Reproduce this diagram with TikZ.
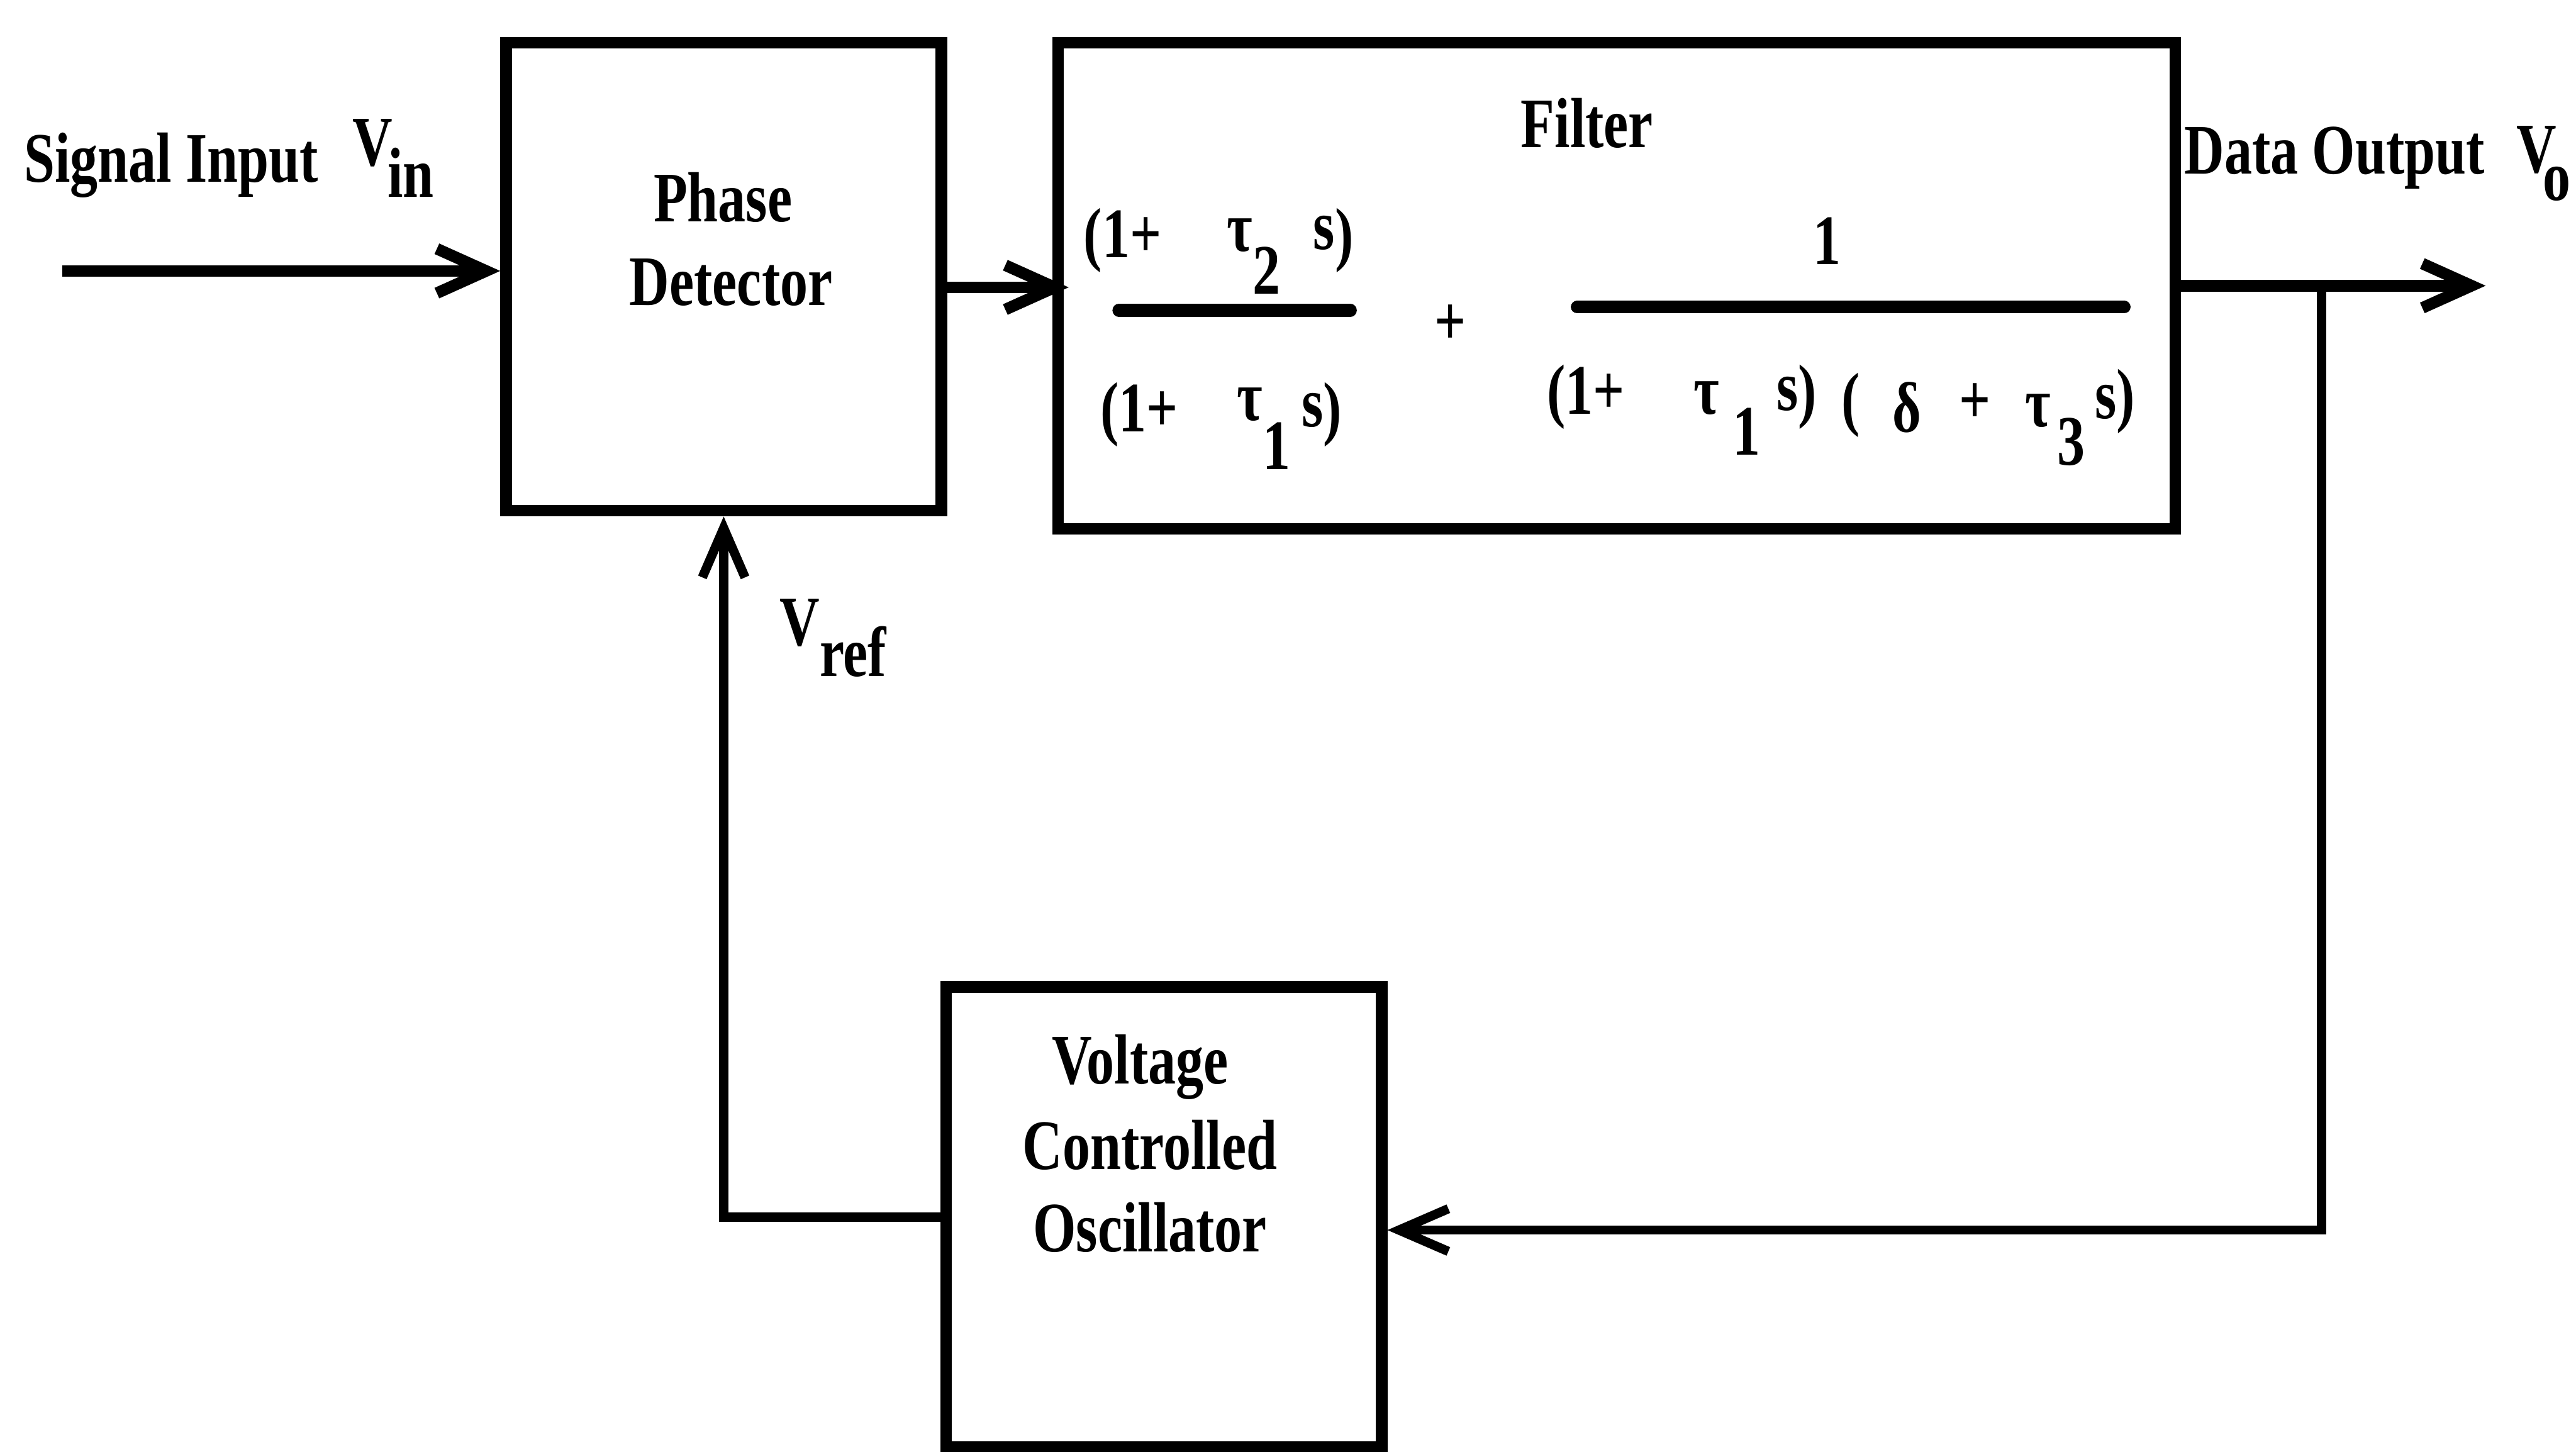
\documentclass[tikz,border=0pt]{standalone}
\usepackage{fontspec}
\setmainfont{Liberation Serif}[FakeStretch=0.78]
\usetikzlibrary{arrows.meta}

\newcommand{\lo}[1]{\raisebox{-0.19cm}{#1}}
\newcommand{\sh}[2]{\raisebox{#1}{#2}}

\tikzset{
  blk/.style={draw, line width=2pt, inner sep=0pt},
  txt/.style={font=\fontsize{12.3}{14.5}\selectfont\bfseries, inner sep=0pt},
  sig/.style={line width=2pt, -{Straight Barb[length=3mm,width=2.7mm]}},
  fb/.style={line width=1.6pt, -{Straight Barb[length=3mm,width=2.6mm]}},
  bar/.style={line width=2.2pt, line cap=round},
}

\begin{document}
\begin{tikzpicture}
  \useasboundingbox (0,0) rectangle (15.68,8.84);

  % blocks
  \node[blk, minimum width=2.65cm, minimum height=2.85cm] (pd) at (4.405,7.155) {};
  \node[blk, minimum width=6.80cm, minimum height=2.96cm] (flt) at (9.84,7.10) {};
  \node[blk, minimum width=2.65cm, minimum height=2.80cm] (vco) at (7.085,1.43) {};

  % block texts
  \node[txt, anchor=base] (pdtop) at (4.40,7.49) {Phase};
  \node[txt, anchor=base] (pdbot) at (4.45,6.98) {Detector};
  \node[txt, anchor=base] (flttit) at (9.66,7.94) {Filter};
  \node[txt, anchor=base] (vco1) at (6.94,2.24) {Voltage};
  \node[txt, anchor=base] (vco2) at (7.00,1.72) {Controlled};
  \node[txt, anchor=base] (vco3) at (7.00,1.22) {Oscillator};

  % transfer function
  \node[txt, anchor=base west] (num1) at (6.59,7.27)
    {(1+\hspace{0.40cm}\sh{0.04cm}{τ}\sh{-0.22cm}{2}\hspace{0.20cm}\sh{0.05cm}{s})};
  \node[txt, anchor=base west] (den1) at (6.69,6.21)
    {(1+\hspace{0.36cm}\sh{0.07cm}{τ}\sh{-0.23cm}{1}\hspace{0.07cm}\sh{0.03cm}{s})};
  \node[txt] (plus) at (8.83,6.86) {+};
  \node[txt, anchor=base] (num2) at (11.12,7.23) {1};
  \node[txt, anchor=base west] (den2) at (9.41,6.32)
    {(1+\hspace{0.42cm}τ\hspace{0.08cm}\sh{-0.25cm}{1}\hspace{0.10cm}\sh{0.02cm}{s})\hspace{0.15cm}\sh{-0.05cm}{(}\hspace{0.20cm}\sh{-0.11cm}{δ}\hspace{0.23cm}\sh{-0.06cm}{+}\hspace{0.21cm}\sh{-0.08cm}{τ}\hspace{0.04cm}\sh{-0.31cm}{3}\hspace{0.06cm}\sh{-0.03cm}{s}\sh{-0.03cm}{)}};
  \draw[bar] (6.81,6.95) -- (8.22,6.95);
  \draw[bar] (9.60,6.97) -- (12.93,6.97);

  % signal labels
  \node[txt, anchor=base west] (sigin) at (0.14,7.73) {Signal Input};
  \node[txt, anchor=base west] (vin) at (2.14,7.83) {V\hspace{-0.03cm}\lo{in}};
  \node[txt, anchor=base west] (datout) at (13.29,7.78) {Data Output};
  \node[txt, anchor=base west] (vo) at (15.31,7.79) {V\hspace{-0.08cm}\sh{-0.17cm}{o}};
  \node[txt, anchor=base west] (vref) at (4.74,4.91) {V\lo{ref}};

  % connectors
  \coordinate (in) at (0.38,7.19);
  \coordinate (out) at (15.13,7.10);
  \coordinate (tap) at (14.13,7.10);
  \draw[sig] (in) -- (in -| pd.west);
  \draw[sig, shorten >=-1mm] ([yshift=-0.65mm]pd.east) -- ([yshift=-0.65mm]pd.east -| flt.west);
  \draw[sig] (flt.east) -- (out);
  \draw[fb] (tap) |- ([yshift=-0.8mm]vco.east);
  \draw[fb] (vco.west) -| (pd.south);
\end{tikzpicture}
\end{document}
